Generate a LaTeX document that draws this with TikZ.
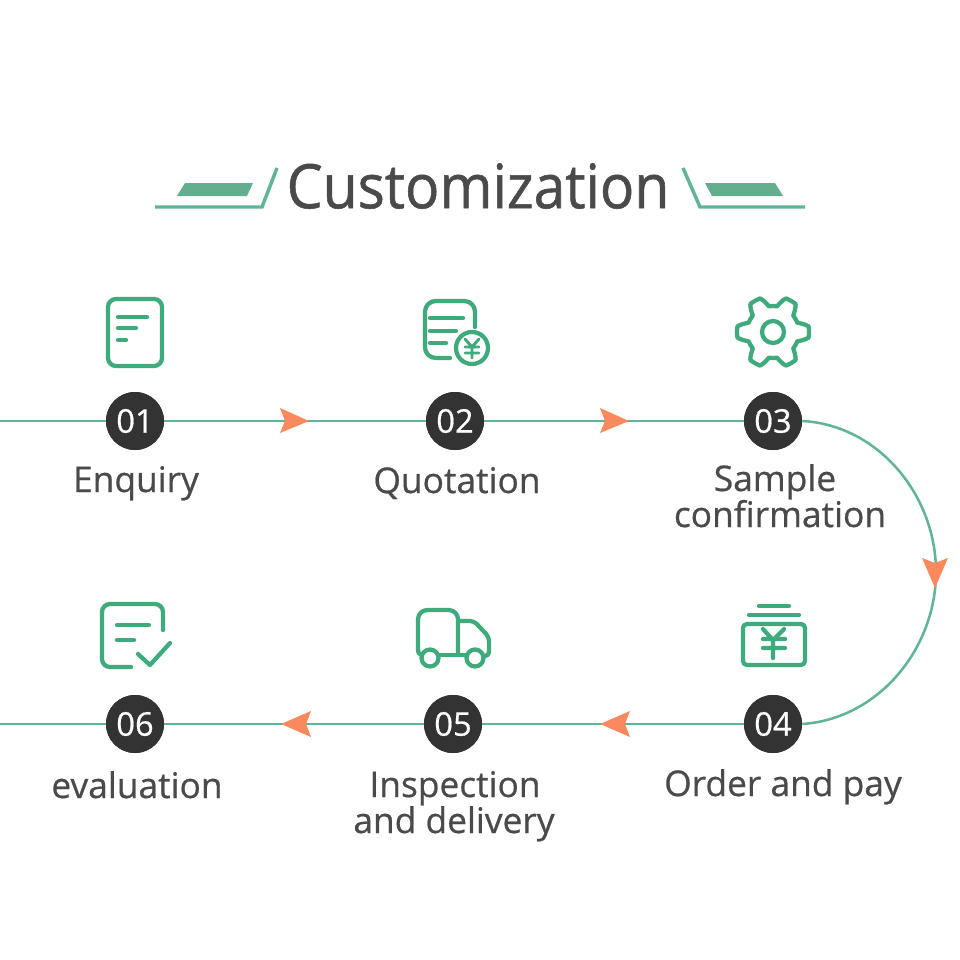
\documentclass[tikz,border=0pt]{standalone}
\usepackage{fontspec}
\setmainfont{Open Sans}[FakeBold=0.6]
\newfontfamily\ttlfont{Open Sans}[FakeStretch=0.93,FakeBold=0.9]
\definecolor{gline}{HTML}{5FB595}
\definecolor{gicon}{HTML}{3FAB7C}
\definecolor{gbar}{HTML}{62AE8E}
\definecolor{orangeA}{HTML}{FA8A5E}
\definecolor{inkD}{HTML}{333333}
\definecolor{inkT}{HTML}{4A4A4C}
\tikzset{
  icon/.style={draw=gicon,line width=3.2pt,line cap=round,line join=round,fill=none},
  badge/.style={circle,fill=inkD,draw=none,minimum size=43.5pt,inner sep=0pt,text=white,font=\fontsize{24.5}{25}\selectfont},
  lab/.style={text=inkT,font=\fontsize{26.5}{27}\selectfont,inner sep=0pt,anchor=base},
  flow/.style={draw=gline,line width=1.9pt},
  tipr/.style={fill=orangeA,draw=none},
  deco/.style={draw=gline,line width=2.6pt,line join=miter},
  decobar/.style={fill=gbar,draw=none},
}
\begin{document}
\begin{tikzpicture}[x=0.75pt,y=-0.75pt]
\useasboundingbox (0,0) rectangle (960,960);
\fill[white] (0,0) rectangle (960,960);
% title
\node[text=inkT,font=\ttlfont\fontsize{46}{46}\selectfont,inner sep=0pt] (title) at (478,186) {Customization};
\coordinate (dl1) at (155,207); \coordinate (dl2) at (262,207); \coordinate (dl3) at (277,168);
\draw[deco] (dl1) -- (dl2) -- (dl3);
\fill[decobar] (185,183) -- (253,183) -- (247,196) -- (177,196) -- cycle;
\coordinate (dr1) at (805,207); \coordinate (dr2) at (700,207); \coordinate (dr3) at (683,168);
\draw[deco] (dr1) -- (dr2) -- (dr3);
\fill[decobar] (705,183) -- (775,183) -- (783,196) -- (712,196) -- cycle;
% connectors
\coordinate (leftA) at (0,421);
\coordinate (leftB) at (0,724);
\coordinate (bend) at (936,572);
\node[badge] (n1) at (135,421) {};
\node[badge] (n2) at (455,421) {};
\node[badge] (n3) at (773,421) {};
\node[badge] (n4) at (773,724) {};
\node[badge] (n5) at (453,724) {};
\node[badge] (n6) at (135,724) {};
\draw[flow] (leftA) -- (n1) (n1) -- (n2) (n2) -- (n3);
\draw[flow] (leftB) -- (n6) (n6) -- (n5) (n5) -- (n4);
\draw[flow] (n3.east) .. controls (878,425) and (936,495) .. (bend) .. controls (936,649) and (878,719) .. (n4.east);
\node[badge] at (n1) {01};
\node[badge] at (n2) {02};
\node[badge] at (n3) {03};
\node[badge] at (n4) {04};
\node[badge] at (n5) {05};
\node[badge] at (n6) {06};
% arrowheads
\fill[tipr] (280,408) -- (309,421) -- (280,433) -- (285,421) -- cycle;
\fill[tipr] (600,408) -- (629,421) -- (600,433) -- (605,421) -- cycle;
\fill[tipr] (922,558) -- (935,588) -- (948,558) -- (935,563) -- cycle;
\fill[tipr] (630,711) -- (600,724) -- (630,737) -- (625,724) -- cycle;
\fill[tipr] (311,711) -- (281,724) -- (311,737) -- (306,724) -- cycle;
% labels
\node[lab] (t1) at (136,492) {Enquiry};
\node[lab] (t2) at (457,493) {Quotation};
\node[lab] (t3a) at (775,491) {Sample};
\node[lab] (t3b) at (780,527) {confirmation};
\node[lab] (t4) at (783,796) {Order and pay};
\node[lab] (t5a) at (455,797) {Inspection};
\node[lab] (t5b) at (454,833) {and delivery};
\node[lab] (t6) at (137,798) {evaluation};
% icon 1
\draw[icon,rounded corners=6pt] (108,299) rectangle (162,366);
\draw[icon] (118,317) -- (147,317) (118,328) -- (136,328) (118,340) -- (126,340);
% icon 2
\draw[icon,rounded corners=8pt] (475,327) -- (475,301) -- (425,301) -- (425,358) -- (450,358);
\draw[icon] (430,318) -- (463,318) (430,331) -- (456,331) (430,343) -- (446,343);
\draw[icon] (472,348) circle (16);
\draw[icon,line width=2.2pt] (465,339) -- (472,347) -- (479,339) (472,347) -- (472,358) (465,347) -- (479,347) (465,353) -- (479,353);
% icon 3
\draw[icon] plot[domain=0:360,samples=121,smooth] ({773+(31+5*max(-1,min(1,1.7*cos(6*\x))))*cos(\x)},{332+(31+5*max(-1,min(1,1.7*cos(6*\x))))*sin(\x)}) -- cycle;
\draw[icon] (773,332) circle (11);
% icon 4
\draw[icon,rounded corners=3pt] (743,624) rectangle (805,665);
\draw[icon] (749,615) -- (799,615) (759,606) -- (789,606);
\draw[icon] (763,629) -- (773,640) -- (784,629) (773,640) -- (773,658) (763,639) -- (785,639) (763,648) -- (785,648);
% icon 5
\draw[icon,rounded corners=7pt] (418,648) -- (418,610) -- (458,610) -- (458,655);
\draw[icon] (418,648) .. controls (418,653) and (419,655) .. (422,655);
\draw[icon,rounded corners=3pt] (458,621) -- (474,621) -- (489,637) -- (489,656) -- (485,656);
\draw[icon] (439,655) -- (465,655);
\draw[icon] (430,658) circle (8.5);
\draw[icon] (475,658) circle (8.5);
% icon 6
\draw[icon,rounded corners=6pt] (163,630) -- (163,604) -- (102,604) -- (102,667) -- (131,667);
\draw[icon] (117,625) -- (149,625) (117,640) -- (134,640);
\draw[icon] (138,654) -- (150,665) -- (170,643);
\end{tikzpicture}
\end{document}
